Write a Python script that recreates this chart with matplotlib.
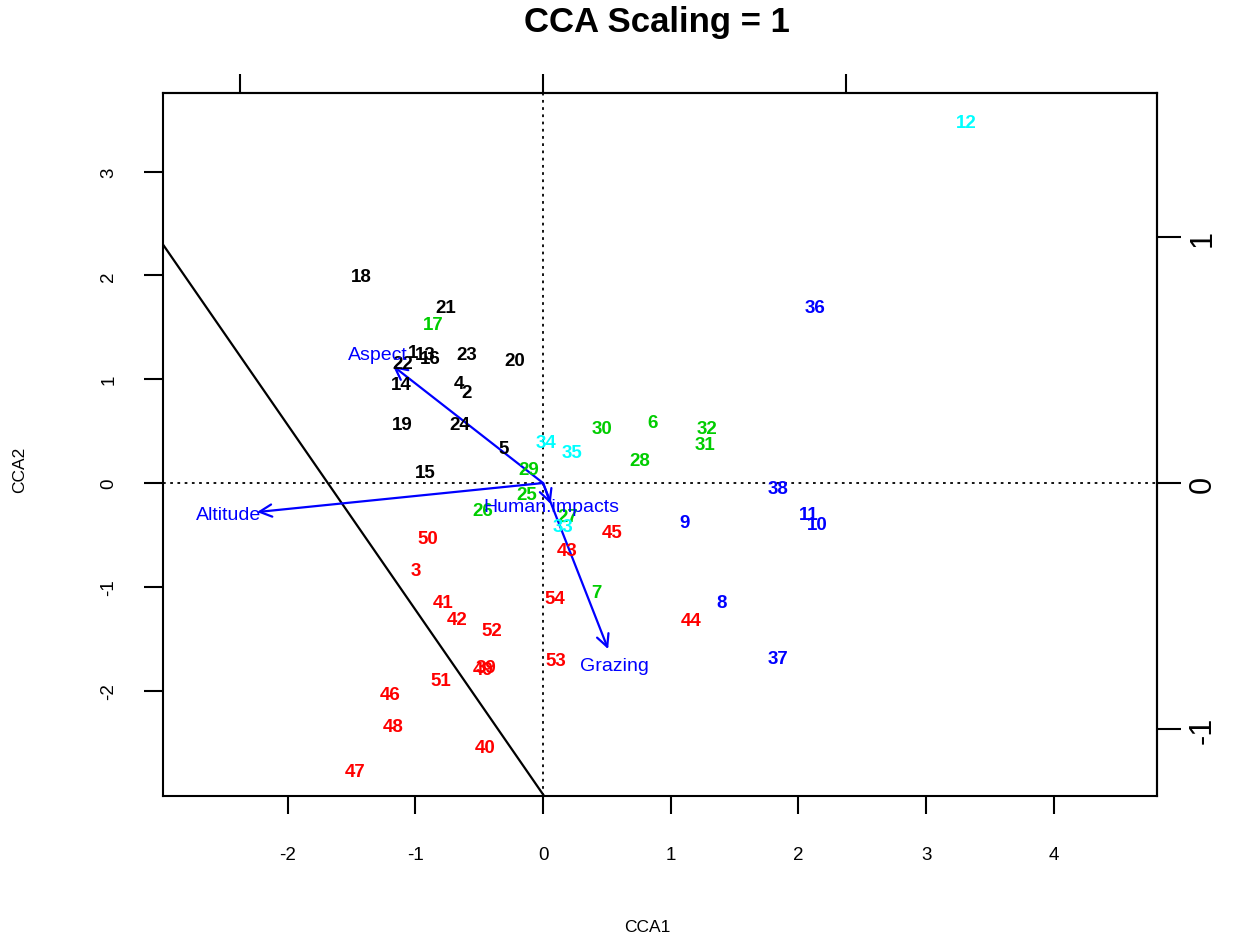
import matplotlib
matplotlib.use("Agg")
import matplotlib.pyplot as plt

plt.rcParams['font.family'] = ['Liberation Sans', 'DejaVu Sans']
plt.rcParams['axes.unicode_minus'] = False

# site scores (CCA1, CCA2) and group of each site
site_ids = ['18', '21', '1', '13', '22', '16', '23', '20', '14', '4', '2', '19', '24', '5', '15',
            '17', '30', '6', '32', '31', '28', '29', '25', '26', '27', '7',
            '12', '34', '35', '33',
            '36', '38', '11', '10', '9', '8', '37',
            '50', '3', '45', '43', '41', '42', '54', '52', '44', '39', '49', '53', '51', '46', '48', '40', '47']
site_x = [-1.42, -0.76, -1.02, -0.92, -1.10, -0.88, -0.60, -0.22, -1.11, -0.66, -0.60, -1.10, -0.65, -0.31, -0.92,
          -0.86, 0.46, 0.86, 1.28, 1.27, 0.76, -0.11, -0.13, -0.47, 0.19, 0.42,
          3.31, 0.02, 0.23, 0.16,
          2.13, 1.84, 2.08, 2.15, 1.11, 1.40, 1.84,
          -0.90, -1.00, 0.54, 0.19, -0.78, -0.67, 0.09, -0.40, 1.16, -0.45, -0.47, 0.10, -0.80, -1.20, -1.17, -0.45, -1.47]
site_y = [1.99, 1.69, 1.26, 1.24, 1.15, 1.20, 1.24, 1.18, 0.95, 0.96, 0.87, 0.56, 0.56, 0.33, 0.10,
          1.53, 0.53, 0.58, 0.53, 0.37, 0.22, 0.13, -0.11, -0.26, -0.32, -1.05,
          3.47, 0.39, 0.29, -0.42,
          1.69, -0.05, -0.30, -0.40, -0.38, -1.15, -1.69,
          -0.53, -0.84, -0.48, -0.65, -1.15, -1.31, -1.11, -1.42, -1.32, -1.78, -1.80, -1.71, -1.90, -2.04, -2.35, -2.55, -2.78]
site_grp = [1] * 15 + [3] * 11 + [5] * 4 + [4] * 7 + [2] * 17

# R palette colours used for the groups
pal = {1: 'black', 2: '#FF0000', 3: '#00CD00', 4: '#0000FF', 5: '#00FFFF'}

# biplot scores of the environmental variables
env_names = ['Aspect', 'Altitude', 'Human.impacts', 'Grazing']
env_x = [-0.496, -0.945, 0.025, 0.215]
env_y = [0.476, -0.118, -0.085, -0.675]
arrow_mul = 2.37

# fitted line
line_a = -3.0
line_b = -1.78

xlim = (-2.976, 4.808)
ylim = (-3.015, 3.757)

fig = plt.figure(figsize=(12.54, 9.45), dpi=100)
ax = fig.add_axes([0.130, 0.1566, 0.7927, 0.7439])
ax.set_xlim(*xlim)
ax.set_ylim(*ylim)

ax.axhline(0, color='black', lw=1.3, ls=(0, (1.5, 2.5)), zorder=1)
ax.axvline(0, color='black', lw=1.3, ls=(0, (1.5, 2.5)), zorder=1)
ax.axline((0, line_a), slope=line_b, color='black', lw=1.6, zorder=1)

for sid, x, y, g in zip(site_ids, site_x, site_y, site_grp):
    ax.text(x, y, sid, color=pal[g], fontsize=13.5, fontweight='bold',
            ha='center', va='center', zorder=3)

for name, bx, by in zip(env_names, env_x, env_y):
    tx, ty = bx * arrow_mul, by * arrow_mul
    ax.annotate('', xy=(tx, ty), xytext=(0, 0),
                arrowprops=dict(arrowstyle='->', color='#0000FF', lw=1.6,
                                mutation_scale=22, shrinkA=0, shrinkB=0), zorder=2)
    ax.text(tx * 1.1, ty * 1.1, name, color='#0000FF', fontsize=14,
            ha='center', va='center', zorder=3)

for sp in ax.spines.values():
    sp.set_linewidth(1.5)

ax.set_xticks([-2, -1, 0, 1, 2, 3, 4])
ax.set_yticks([-2, -1, 0, 1, 2, 3])
ax.tick_params(axis='x', length=13, width=1.5, pad=23, labelsize=13.5)
ax.tick_params(axis='y', length=14, width=1.5, pad=19, labelsize=13.5)
for lab in ax.get_yticklabels():
    lab.set_rotation(90)
    lab.set_va('center')

# secondary axes for the biplot arrow scale
top = ax.secondary_xaxis('top', functions=(lambda v: v / arrow_mul, lambda v: v * arrow_mul))
top.set_xticks([-1, 0, 1])
top.set_xticklabels([])
top.tick_params(length=14, width=1.5)
top.spines['top'].set_linewidth(1.5)

right = ax.secondary_yaxis('right', functions=(lambda v: v / arrow_mul, lambda v: v * arrow_mul))
right.set_yticks([-1, 0, 1])
right.set_yticklabels(['-1', '0', '1'], rotation=90, va='center')
right.tick_params(length=17, width=1.5, pad=5, labelsize=22)
right.spines['right'].set_linewidth(1.5)

fig.text(0.524, 0.976, 'CCA Scaling = 1', fontsize=25, fontweight='bold', ha='center', va='center')
fig.text(0.516, 0.018, 'CCA1', fontsize=12.5, ha='center', va='center')
fig.text(0.016, 0.503, 'CCA2', fontsize=12.5, ha='center', va='center', rotation=90)

fig.savefig('out.png', dpi=100)
